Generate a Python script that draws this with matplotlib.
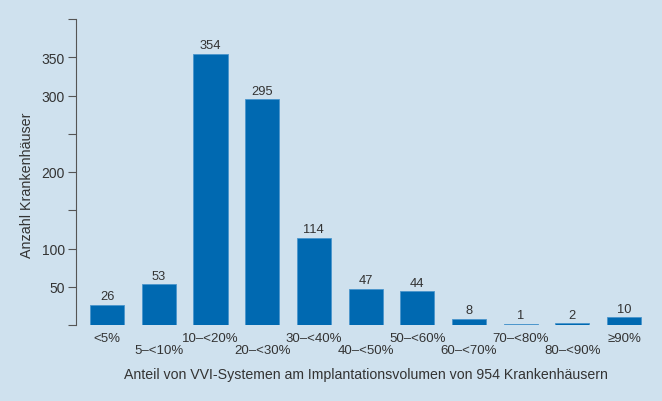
import matplotlib
matplotlib.use('Agg')
import matplotlib.pyplot as plt

# ── Daten ─────────────────────────────────────────
categories = ['<5%', '5–<10%', '10–<20%', '20–<30%', '30–<40%', '40–<50%',
              '50–<60%', '60–<70%', '70–<80%', '80–<90%', '≥90%']
counts = [26, 53, 354, 295, 114, 47, 44, 8, 1, 2, 10]
yticks = [0, 50, 100, 150, 200, 250, 300, 350, 400]
ytick_labels = ['', '50', '100', '', '200', '', '300', '350', '']

BG = '#cfe1ee'
BAR = '#0069b1'
TXT = '#333333'

plt.rcParams['font.family'] = ['Liberation Sans', 'DejaVu Sans']

fig = plt.figure(figsize=(6.62, 4.02), dpi=100, facecolor=BG)
ax = fig.add_axes([76 / 662, 1 - 326 / 402, (650 - 76) / 662, 306 / 402])
ax.set_facecolor(BG)

x = list(range(len(categories)))
ax.bar(x, counts, width=0.66, color=BAR, edgecolor='#4a95cc', linewidth=0.6)
for xi, v in zip(x, counts):
    ax.annotate(str(v), (xi, v), xytext=(0, 2), textcoords='offset points',
                ha='center', va='bottom', fontsize=9.3, color=TXT)

ax.set_xlim(-0.6, 10.5)
ax.set_ylim(0, 400)
ax.set_yticks(yticks)
ax.set_yticklabels(ytick_labels, fontsize=10, color=TXT)
ax.tick_params(axis='y', length=6, width=0.8, color='#555555', pad=2)

# versetzte Kategorienbeschriftung (abwechselnd oben/unten)
ax.set_xticks([])
for xi, lab in zip(x, categories):
    ypix = 339 if xi % 2 == 0 else 351
    ax.text(xi, -(ypix - 326) / 306, lab, transform=ax.get_xaxis_transform(),
            ha='center', va='center', fontsize=9.5, color=TXT)

for s in ['top', 'right', 'bottom']:
    ax.spines[s].set_visible(False)
ax.spines['left'].set_color('#555555')
ax.spines['left'].set_linewidth(0.8)

fig.text(366 / 662, 1 - 375 / 402,
         'Anteil von VVI-Systemen am Implantationsvolumen von 954 Krankenhäusern',
         ha='center', va='center', fontsize=10.2, color=TXT)
fig.text(27 / 662, 1 - 185 / 402, 'Anzahl Krankenhäuser', rotation=90,
         ha='center', va='center', fontsize=10.3, color=TXT)

fig.savefig('out.png', dpi=100, facecolor=BG)
